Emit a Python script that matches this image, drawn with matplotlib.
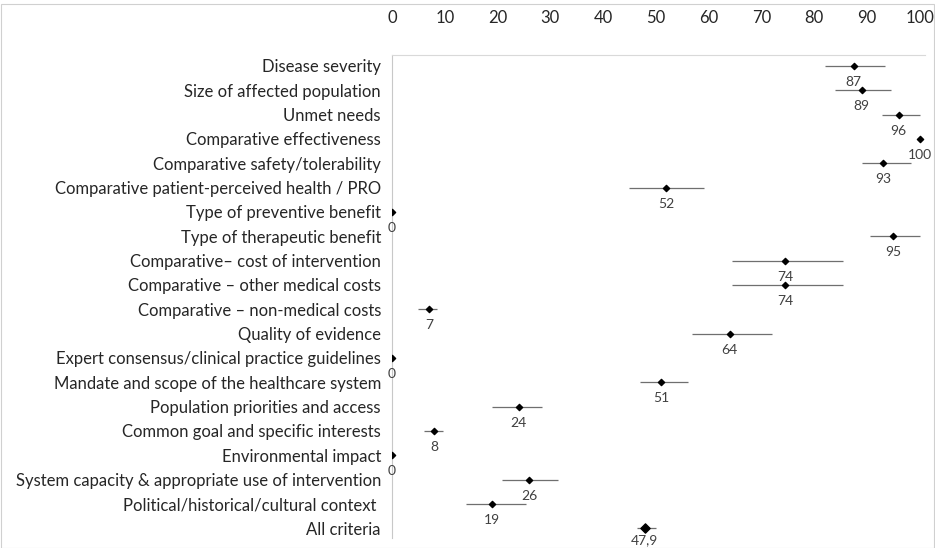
import numpy as np
import matplotlib.pyplot as plt
from matplotlib.patches import Rectangle

# criteria, scores and error bar extents
criteria = [
    "Disease severity",
    "Size of affected population",
    "Unmet needs",
    "Comparative effectiveness",
    "Comparative safety/tolerability",
    "Comparative patient-perceived health / PRO",
    "Type of preventive benefit",
    "Type of therapeutic benefit",
    "Comparative\u2013 cost of intervention",
    "Comparative \u2013 other medical costs",
    "Comparative \u2013 non-medical costs",
    "Quality of evidence",
    "Expert consensus/clinical practice guidelines",
    "Mandate and scope of the healthcare system",
    "Population priorities and access",
    "Common goal and specific interests",
    "Environmental impact",
    "System capacity & appropriate use of intervention",
    "Political/historical/cultural context ",
    "All criteria",
]
scores = [87.5, 89, 96, 100, 93, 52, 0, 95, 74.5, 74.5, 7, 64, 0, 51, 24, 8, 0, 26, 19, 47.9]
score_labels = ["87", "89", "96", "100", "93", "52", "0", "95", "74", "74", "7", "64",
                "0", "51", "24", "8", "0", "26", "19", "47,9"]
low = [82, 84, 92.8, 100, 89, 45, 0, 90.5, 64.4, 64.4, 5, 56.8, 0, 47, 19, 6, 0, 20.8, 14, 46.5]
high = [93.5, 94.5, 100, 100, 98.3, 59.2, 0, 100, 85.5, 85.5, 8.6, 72, 0, 56, 28.4, 9.7, 0, 31.4, 25.3, 50.1]

plt.rcParams['font.family'] = ['Lato', 'DejaVu Sans']

fig = plt.figure(figsize=(9.35, 5.48), dpi=100)
ax = fig.add_axes([392 / 935, 1 - 538 / 548, (925 - 392) / 935, (538 - 55) / 548])

ypos = np.arange(len(criteria))
scores = np.array(scores)
xerr = np.array([scores - np.array(low), np.array(high) - scores])

ax.errorbar(scores, ypos, xerr=xerr, fmt='none', ecolor='#6f6f6f', elinewidth=0.9, capsize=0)
ax.scatter(scores[:-1], ypos[:-1], marker='D', s=10, color='black', zorder=3)
ax.scatter(scores[-1:], ypos[-1:], marker='D', s=22, color='black', zorder=3)

for i, (s, y, lab) in enumerate(zip(scores, ypos, score_labels)):
    # last label sits tighter so it stays inside the frame
    dy = -8.5 if i == len(scores) - 1 else -11.5
    ax.annotate(lab, (s, y), xytext=(0, dy), textcoords='offset points',
                ha='center', va='center', fontsize=10, color='#404040')

ax.set_xlim(0, 101)
ax.set_ylim(19.4, -0.45)
ax.set_xticks(np.arange(0, 101, 10))
ax.xaxis.tick_top()
ax.tick_params(axis='x', length=0, pad=21, labelsize=12, labelcolor='#262626')
ax.set_yticks(ypos)
ax.set_yticklabels(criteria)
ax.tick_params(axis='y', length=0, pad=8, labelsize=12, labelcolor='#262626')

for side in ['right', 'bottom']:
    ax.spines[side].set_visible(False)
ax.spines['left'].set_color('#c8c8c8')
ax.spines['top'].set_color('#d9d9d9')

fig.patches.append(Rectangle((0.5 / 935, 0.5 / 548), 1 - 1.5 / 935, 1 - 4 / 548,
                             transform=fig.transFigure, fill=False,
                             edgecolor='#d0d0d0', linewidth=0.8))

fig.savefig("out.png", dpi=100)
